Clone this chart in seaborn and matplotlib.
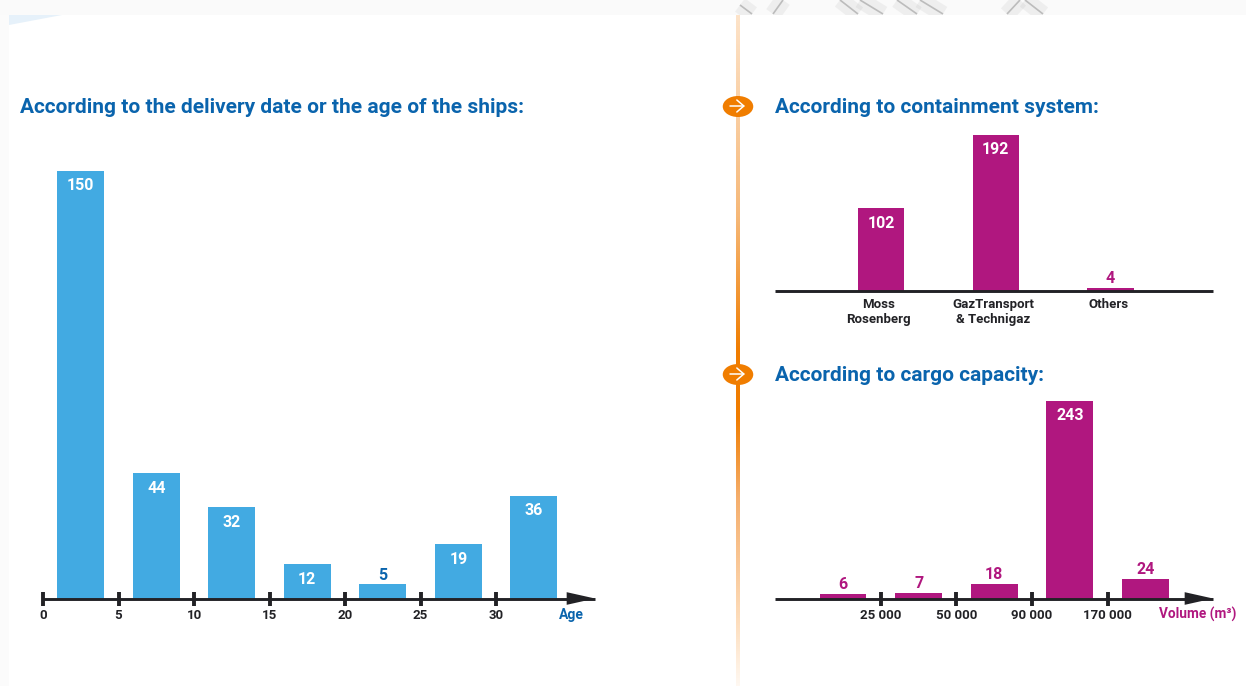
import matplotlib
matplotlib.use("Agg")
import matplotlib.pyplot as plt
import numpy as np
import seaborn as sns
from matplotlib.colors import LinearSegmentedColormap
from matplotlib.patches import Ellipse, Polygon

# Fleet breakdowns
age_labels = ["0-5", "5-10", "10-15", "15-20", "20-25", "25-30", "30+"]
age_counts = [150, 44, 32, 12, 5, 19, 36]
age_ticks = ["0", "5", "10", "15", "20", "25", "30"]

system_labels = ["Moss\nRosenberg", "GazTransport\n& Technigaz", "Others"]
system_counts = [102, 192, 4]

volume_labels = ["<25k", "25-50k", "50-90k", "90-170k", ">170k"]
volume_counts = [6, 7, 18, 243, 24]
volume_ticks = ["25 000", "50 000", "90 000", "170 000"]

W, H = 1246, 686
BLUE = "#42aae2"
TITLE = "#0a64ad"
MAGENTA = "#b0177f"
INK = "#222226"
ORANGE = "#f07d00"

sns.set_theme(style="white")
plt.rcParams["font.family"] = ["Roboto", "DejaVu Sans"]
plt.rcParams["font.weight"] = "bold"

fig = plt.figure(figsize=(W / 100, H / 100), dpi=100, facecolor="#fafafa")


def px_axes(left, right, top, bottom, **kw):
    return fig.add_axes([left / W, 1 - bottom / H, (right - left) / W, (bottom - top) / H], **kw)


# Page background in pixel coordinates
bg = px_axes(0, W, 0, H)
bg.axis("off")
bg.add_patch(Polygon([(9, 15), (W, 15), (W, H), (9, H)], fc="white", ec="none", zorder=1.5))
bg.add_patch(Polygon([(9, 15), (62, 15), (9, 25)], fc="#e6f1fa", ec="none", zorder=1.6))

# Faint diagonal pattern in the strip along the top edge
for xs, ys in [((740, 752), (5, 14)), ((783, 773), (0, 14)), ((840, 858), (0, 14)),
               ((860, 883), (0, 14)), ((897, 917), (0, 14)), ((920, 943), (0, 14)),
               ((1020, 1007), (0, 14)), ((1025, 1043), (0, 14))]:
    bg.plot(xs, ys, color="#808080", lw=12, alpha=0.09, solid_capstyle="butt", zorder=1)
    bg.plot(xs, ys, color="#bcbcbc", lw=1.2, solid_capstyle="butt", zorder=1)
bg.add_patch(Polygon([(0, 15), (9, 15), (9, H), (0, H)], fc="#fbfbfb", ec="none", zorder=1.5))

# Orange rule that fades out towards both ends
fade = LinearSegmentedColormap.from_list(
    "fade", [(0, "#fde3c9"), (0.3, "#f6b878"), (0.5, ORANGE), (0.6, ORANGE), (0.72, "#f5ae6c"),
             (0.9, "#fddcba"), (1, "#fff8f1")])
bg.imshow(np.linspace(0, 1, 256)[:, None], cmap=fade, extent=(736, 740, H, 15), aspect="auto", zorder=2)
bg.set_xlim(0, W)
bg.set_ylim(H, 0)

for cy in (106.5, 374.5):
    bg.add_patch(Ellipse((738, cy), 30.5, 21, fc=ORANGE, ec="none", zorder=3))
    bg.annotate("", xy=(745, cy - 0.5), xytext=(730, cy - 0.5), zorder=4,
                arrowprops=dict(arrowstyle="->,head_width=0.36,head_length=0.42", color="white", lw=1.1,
                                shrinkA=0, shrinkB=0))


def style_axis(ax, arrow=True):
    sns.despine(ax=ax, left=True, top=True, right=True, bottom=True)
    ax.set_xlabel("")
    ax.set_ylabel("")
    ax.set_yticks([])
    ax.axhline(0, color=INK, lw=2.1, clip_on=False, zorder=5, solid_capstyle="butt")
    ax.patch.set_alpha(0)
    if arrow:
        ax.annotate("", xy=(1.0, 0), xycoords="axes fraction", xytext=(0.95, 0),
                    arrowprops=dict(arrowstyle="-|>,head_width=0.38,head_length=1.7", color=INK, lw=0,
                                    shrinkA=0, shrinkB=0), zorder=6, annotation_clip=False)


def value_labels(ax, bars, values, threshold, outer):
    for bar, v in zip(bars, values):
        cx = bar.get_x() + bar.get_width() / 2
        if v >= threshold:
            ax.annotate(str(v), (cx, v), xytext=(0, -15), textcoords="offset pixels", ha="center",
                        va="center", color="white", fontsize=11.5)
        else:
            ax.annotate(str(v), (cx, v), xytext=(0, 9), textcoords="offset pixels", ha="center",
                        va="center", color=outer, fontsize=11.5)


TICKS = dict(axis="x", length=10, width=2.8, color=INK, direction="inout", labelsize=9.5,
             labelcolor=INK, pad=2.3, bottom=True)

# Age of the ships
ax1 = px_axes(43, 595, 171, 598.5)
sns.barplot(x=age_labels, y=age_counts, color=BLUE, saturation=1, width=0.62, linewidth=0, ax=ax1)
ax1.set_xlim(-0.5, 6.81)
ax1.set_ylim(0, 150)
style_axis(ax1)
value_labels(ax1, ax1.patches, age_counts, 10, TITLE)
ax1.set_xticks(np.arange(len(age_ticks)) - 0.5, age_ticks)
ax1.tick_params(**TICKS)
ax1.text(571.5, 614.5, "Age", transform=bg.transData, ha="center", va="center", color=TITLE, fontsize=10)

# Containment system
ax2 = px_axes(775, 1213, 135, 291)
sns.barplot(x=system_labels, y=system_counts, color=MAGENTA, saturation=1, width=0.405, linewidth=0, ax=ax2)
ax2.set_xlim(-0.923, 2.892)
ax2.set_ylim(0, 192)
style_axis(ax2, arrow=False)
value_labels(ax2, ax2.patches, system_counts, 10, MAGENTA)
ax2.set_xticks(np.arange(len(system_labels)) - 0.02, system_labels)
ax2.tick_params(axis="x", length=0, labelsize=9.5, labelcolor=INK, pad=5)

# Cargo capacity
ax3 = px_axes(775, 1213, 401, 598.5)
sns.barplot(x=volume_labels, y=volume_counts, color=MAGENTA, saturation=1, width=0.62, linewidth=0, ax=ax3)
ax3.set_xlim(-0.9, 4.894)
ax3.set_ylim(0, 243)
style_axis(ax3)
value_labels(ax3, ax3.patches, volume_counts, 30, MAGENTA)
ax3.set_xticks(np.arange(len(volume_ticks)) + 0.5, volume_ticks)
ax3.tick_params(**TICKS)
ax3.text(1198, 614.5, "Volume (m³)", transform=bg.transData, ha="center", va="center",
         color=MAGENTA, fontsize=9.8)

# Section headings
for x, y, s in [(20, 107.5, "According to the delivery date or the age of the ships:"),
                (775, 107.5, "According to containment system:"),
                (775, 375.5, "According to cargo capacity:")]:
    bg.text(x, y, s, ha="left", va="center", color=TITLE, fontsize=15.05, zorder=4)

fig.savefig("out.png", dpi=100, facecolor=fig.get_facecolor())
